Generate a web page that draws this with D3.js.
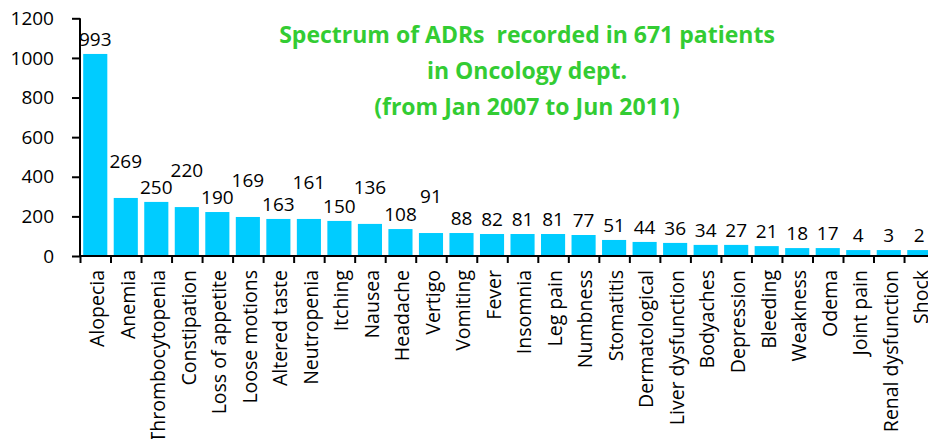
<!DOCTYPE html>
<html>
<head>
<meta charset="utf-8">
<script src="https://cdn.jsdelivr.net/npm/d3@7"></script>
<style>
  html, body { margin: 0; padding: 0; background: #fff; }
  svg { display: block; }
  text { font-family: "Open Sans", sans-serif; }
</style>
</head>
<body>
<svg id="chart" width="928" height="439"></svg>
<script>
const categories = ["Alopecia","Anemia","Thrombocytopenia","Constipation","Loss of appetite","Loose motions","Altered taste","Neutropenia","Itching","Nausea","Headache","Vertigo","Vomiting","Fever","Insomnia","Leg pain","Numbness","Stomatitis","Dermatological","Liver dysfunction","Bodyaches","Depression","Bleeding","Weakness","Odema","Joint pain","Renal dysfunction","Shock"];
const barValues = [1020,293,273,247,222,197,187,187,177,162,136,116,116,111,111,111,106,81,71,66,56,56,50,40,40,30,30,30];
const labelValues = [993,269,250,220,190,169,163,161,150,136,108,91,88,82,81,81,77,51,44,36,34,27,21,18,17,4,3,2];
const yTicks = [0,200,400,600,800,1000,1200];
const titleLines = ["Spectrum of ADRs  recorded in 671 patients","in Oncology dept.","(from Jan 2007 to Jun 2011)"];

const svg = d3.select("#chart");
const x0 = 80, y0 = 256, yTop = 18.3;
const step = 30.52;

const x = d3.scaleBand().domain(categories).range([x0, x0 + step * categories.length]).paddingInner(0.21).paddingOuter(0.105);
const y = d3.scaleLinear().domain([0, 1200]).range([y0, yTop]);

// bars
svg.append("g").selectAll("rect").data(categories).join("rect")
  .attr("x", d => x(d))
  .attr("width", x.bandwidth())
  .attr("y", (d, i) => y(barValues[i]))
  .attr("height", (d, i) => y0 - y(barValues[i]))
  .attr("fill", "#00ccff");

// data labels
svg.append("g").selectAll("text").data(categories).join("text")
  .attr("x", d => x(d) + x.bandwidth() / 2)
  .attr("y", (d, i) => y(barValues[i]) - 8 - ((i % 2 === 1 && i < 12) ? 22 : 0))
  .attr("text-anchor", "middle")
  .attr("font-size", 19)
  .attr("fill", "#000")
  .text((d, i) => labelValues[i]);

// y axis
const yAxis = svg.append("g").attr("transform", `translate(${x0},0)`)
  .call(d3.axisLeft(y).tickValues(yTicks).tickSize(8).tickPadding(18).tickFormat(d3.format("d")));
yAxis.select(".domain").attr("stroke", "#000").attr("stroke-width", 2).attr("d", `M0,${yTop}V${y0}`);
yAxis.selectAll(".tick line").attr("stroke", "#000").attr("stroke-width", 2);
yAxis.selectAll(".tick text").attr("font-size", 19).attr("font-family", "Open Sans").attr("fill", "#000");

// x axis
const xb = d3.scaleLinear().domain([0, categories.length]).range([x0, x0 + step * categories.length]);
const xAxis = svg.append("g").attr("transform", `translate(0,${y0})`)
  .call(d3.axisBottom(xb).tickValues(d3.range(0, categories.length + 1)).tickSize(7).tickFormat(""));
xAxis.select(".domain").attr("stroke", "#000").attr("stroke-width", 2).attr("d", `M${x0 - 1},0H928`);
xAxis.selectAll(".tick line").attr("stroke", "#000").attr("stroke-width", 2);

// category labels
svg.append("g").selectAll("text").data(categories).join("text")
  .attr("transform", d => `translate(${x(d) + x.bandwidth() / 2 + 2},${y0 + 14}) rotate(-90)`)
  .attr("text-anchor", "end")
  .attr("dy", "0.35em")
  .attr("font-size", 19.5)
  .attr("fill", "#000")
  .text(d => d);

// title
svg.append("g").selectAll("text").data(titleLines).join("text")
  .attr("x", 527)
  .attr("y", (d, i) => 43 + i * 36)
  .attr("text-anchor", "middle")
  .attr("font-size", 23)
  .attr("font-weight", "bold")
  .attr("fill", "#33cc33")
  .style("white-space", "pre")
  .text(d => d);
</script>
</body>
</html>
